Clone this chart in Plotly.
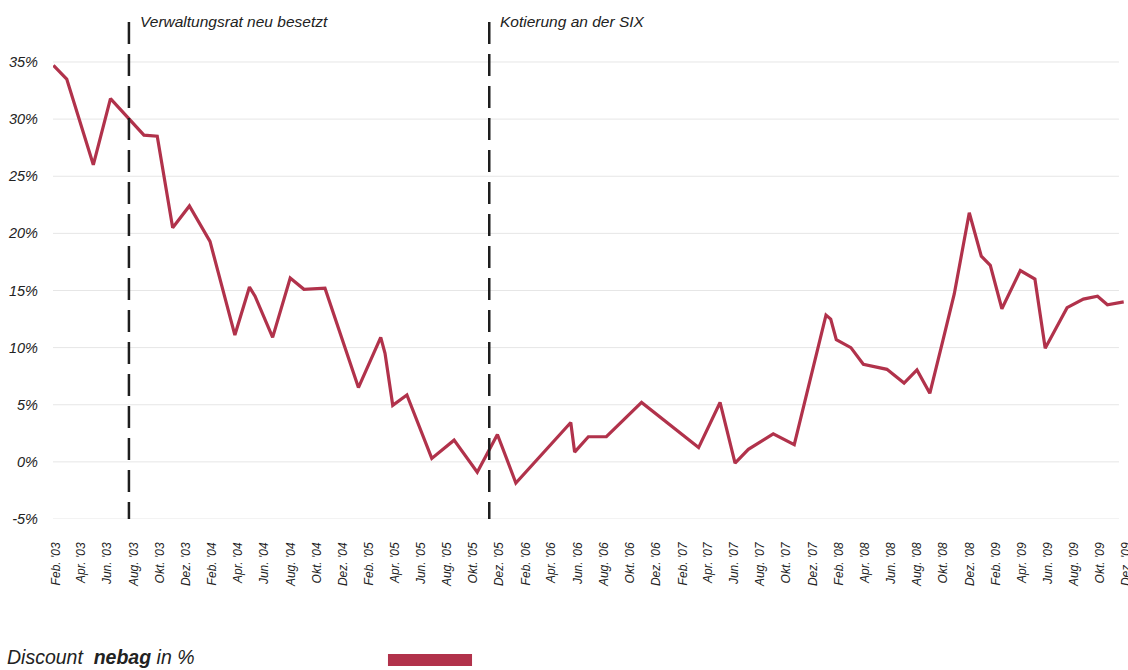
import plotly.graph_objects as go

# ---- data ----
dates = [
    "2003-01-26", "2003-02-26", "2003-04-29", "2003-06-08", "2003-08-25", "2003-09-25",
    "2003-10-31", "2003-12-09", "2004-01-26", "2004-03-20", "2004-03-24", "2004-04-27",
    "2004-05-10", "2004-06-20", "2004-07-31", "2004-09-01", "2004-10-20", "2005-01-06",
    "2005-02-27", "2005-03-09", "2005-03-27", "2005-04-29", "2005-06-26", "2005-08-17",
    "2005-10-10", "2005-11-26", "2006-01-08", "2006-05-16", "2006-05-25", "2006-06-26",
    "2006-08-07", "2006-10-28", "2007-03-10", "2007-04-29", "2007-06-03", "2007-07-04",
    "2007-08-31", "2007-10-19", "2008-01-01", "2008-01-12", "2008-01-25", "2008-02-28",
    "2008-03-28", "2008-05-22", "2008-07-01", "2008-07-31", "2008-08-30", "2008-09-30",
    "2008-10-26", "2008-11-30", "2008-12-28", "2009-01-18", "2009-02-14", "2009-03-29",
    "2009-05-02", "2009-05-26", "2009-07-16", "2009-08-23", "2009-09-25", "2009-10-18",
    "2009-11-25",
]
discount = [
    34.7, 33.5, 26.0, 31.8, 28.6, 28.5,
    20.5, 22.4, 19.3, 11.5, 11.1, 15.3,
    14.5, 10.9, 16.1, 15.1, 15.2, 6.5,
    10.9, 9.5, 4.95, 5.85, 0.3, 1.9,
    -0.9, 2.4, -1.85, 3.45, 0.85, 2.2,
    2.2, 5.2, 1.25, 5.2, -0.1, 1.1,
    2.45, 1.5, 12.85, 12.5, 10.7, 10.0,
    8.55, 8.1, 6.9, 8.05, 6.0, 10.7,
    14.7, 21.8, 18.0, 17.2, 13.4, 16.75,
    16.0, 9.95, 13.5, 14.25, 14.5, 13.75,
    14.0,
]

tick_dates = [
    "2003-02-01", "2003-04-01", "2003-06-01", "2003-08-01", "2003-10-01", "2003-12-01",
    "2004-02-01", "2004-04-01", "2004-06-01", "2004-08-01", "2004-10-01", "2004-12-01",
    "2005-02-01", "2005-04-01", "2005-06-01", "2005-08-01", "2005-10-01", "2005-12-01",
    "2006-02-01", "2006-04-01", "2006-06-01", "2006-08-01", "2006-10-01", "2006-12-01",
    "2007-02-01", "2007-04-01", "2007-06-01", "2007-08-01", "2007-10-01", "2007-12-01",
    "2008-02-01", "2008-04-01", "2008-06-01", "2008-08-01", "2008-10-01", "2008-12-01",
    "2009-02-01", "2009-04-01", "2009-06-01", "2009-08-01", "2009-10-01", "2009-12-01",
]
tick_labels = [
    "Feb. '03", "Apr. '03", "Jun. '03", "Aug. '03", "Okt. '03", "Dez. '03",
    "Feb. '04", "Apr. '04", "Jun. '04", "Aug. '04", "Okt. '04", "Dez. '04",
    "Feb. '05", "Apr. '05", "Jun. '05", "Aug. '05", "Okt. '05", "Dez. '05",
    "Feb. '06", "Apr. '06", "Jun. '06", "Aug. '06", "Okt. '06", "Dez. '06",
    "Feb. '07", "Apr. '07", "Jun. '07", "Aug. '07", "Okt. '07", "Dez. '07",
    "Feb. '08", "Apr. '08", "Jun. '08", "Aug. '08", "Okt. '08", "Dez. '08",
    "Feb. '09", "Apr. '09", "Jun. '09", "Aug. '09", "Okt. '09", "Dez. '09",
]
y_ticks = [-5, 0, 5, 10, 15, 20, 25, 30, 35]
y_labels = ["-5%", "0%", "5%", "10%", "15%", "20%", "25%", "30%", "35%"]

event_dates = ["2003-07-21", "2005-11-07"]
event_labels = ["Verwaltungsrat neu besetzt", "Kotierung an der SIX"]

series_name = "Discount&nbsp; <b>nebag</b> in %"

LINE_COLOR = "#B1324B"
FONT = "Liberation Sans, Arial, sans-serif"
TXT = "#222222"

fig = go.Figure()
fig.add_trace(go.Scatter(
    x=dates, y=discount, mode="lines",
    line=dict(color=LINE_COLOR, width=3.2),
    cliponaxis=False, showlegend=False, hoverinfo="x+y",
))

shapes = []
# horizontal gridlines
for v in y_ticks:
    shapes.append(dict(type="line", xref="paper", yref="y", x0=0, x1=0.9916,
                       y0=v, y1=v, line=dict(color="#e6e6e6", width=1), layer="below"))
# event dashed lines
for d in event_dates:
    shapes.append(dict(type="line", xref="x", yref="paper", x0=d, x1=d, y0=1.0, y1=0.0,
                       line=dict(color="#1e1e1e", width=2.5, dash="22px,10px"), layer="above"))
# legend swatch
shapes.append(dict(type="rect", xref="paper", yref="paper", x0=0.3116, x1=0.3898,
                   y0=-0.2958, y1=-0.2716, fillcolor=LINE_COLOR, line=dict(width=0)))

annotations = []
for d, t in zip(event_dates, event_labels):
    annotations.append(dict(x=d, y=1.002, xref="x", yref="paper", text="<i>" + t + "</i>",
                            showarrow=False, xanchor="left", yanchor="middle", xshift=9,
                            font=dict(family=FONT, size=15.5, color=TXT)))
annotations.append(dict(x=-0.0447, y=-0.2777, xref="paper", yref="paper",
                        text="<i>" + series_name + "</i>", showarrow=False,
                        xanchor="left", yanchor="middle",
                        font=dict(family=FONT, size=19.5, color=TXT)))

fig.update_layout(
    width=1128, height=670,
    margin=dict(l=53, r=0, t=22, b=151, autoexpand=False),
    paper_bgcolor="white", plot_bgcolor="white",
    shapes=shapes, annotations=annotations,
    showlegend=False,
    xaxis=dict(
        type="date", range=["2003-01-25", "2009-12-05"], automargin=False,
        tickmode="array", tickvals=tick_dates, ticktext=tick_labels,
        tickangle=-90, showgrid=False, zeroline=False, showline=False,
        ticks="", ticklabelstandoff=20, ticklabeloverflow="allow",
        tickfont=dict(family=FONT, size=12, color=TXT, style="italic"),
    ),
    yaxis=dict(
        range=[-5, 38.5], tickmode="array", tickvals=y_ticks, ticktext=y_labels,
        automargin=False,
        showgrid=False, zeroline=False, showline=False, ticks="",
        ticklabelstandoff=14,
        tickfont=dict(family=FONT, size=14.5, color=TXT, style="italic"),
    ),
)

fig.write_html("out.html", config={"displayModeBar": False},
               post_script="document.body.style.margin='0';document.body.style.overflow='hidden';")
